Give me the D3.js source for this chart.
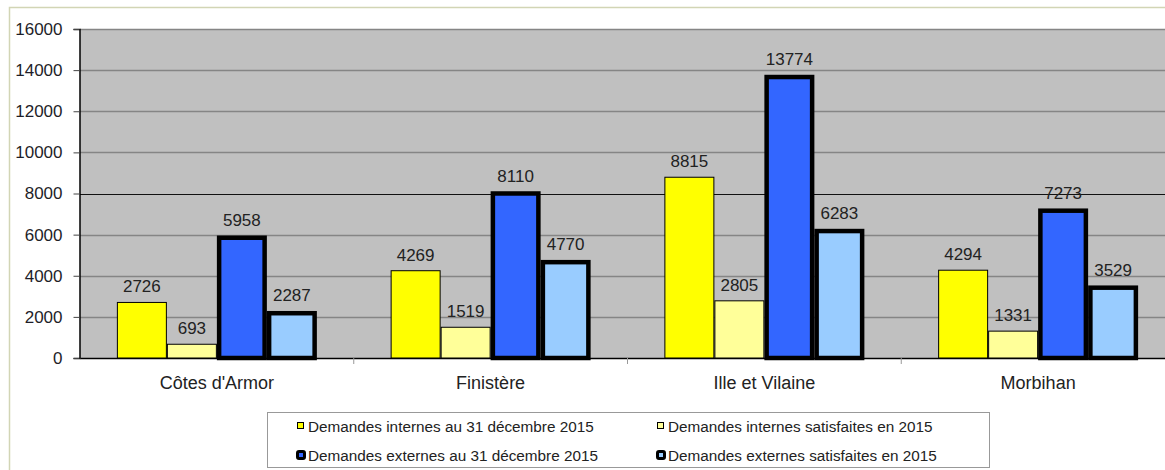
<!DOCTYPE html>
<html>
<head>
<meta charset="utf-8">
<script src="https://cdn.jsdelivr.net/npm/d3@7"></script>
<style>
body { margin: 0; background: #fff; }
svg { display: block; font-family: "Liberation Sans", Arial, sans-serif; }
</style>
</head>
<body>
<svg id="chart"></svg>
<script>
// data
var categories = ["Côtes d'Armor", "Finistère", "Ille et Vilaine", "Morbihan"];
var seriesNames = [
  "Demandes internes au 31 décembre 2015",
  "Demandes internes satisfaites en 2015",
  "Demandes externes au 31 décembre 2015",
  "Demandes externes satisfaites en 2015"
];
var internesAu31 = [2726, 4269, 8815, 4294];
var internesSatisfaites = [693, 1519, 2805, 1331];
var externesAu31 = [5958, 8110, 13774, 7273];
var externesSatisfaites = [2287, 4770, 6283, 3529];
var yTicks = [0, 2000, 4000, 6000, 8000, 10000, 12000, 14000, 16000];

var seriesValues = [internesAu31, internesSatisfaites, externesAu31, externesSatisfaites];
var fills = ["#ffff00", "#ffff99", "#3366ff", "#99ccff"];
var strokeW = [1, 1, 4.5, 4.5];

var W = 1165, H = 470;
var svg = d3.select('#chart').attr('width', W).attr('height', H);

// outer frame
svg.append("rect").attr("x", 9.5).attr("y", 7.5).attr("width", W).attr("height", H)
  .attr("fill", "none").attr("stroke", "#d2d5b5").attr("stroke-width", 1.5);

// scales
var plotLeft = 80, plotRight = 1175, plotTop = 29, plotBottom = 358;
var x0 = d3.scaleBand().domain(categories).range([plotLeft, plotRight]);
var bw = x0.bandwidth();
var x1 = d3.scaleBand().domain(d3.range(seriesNames.length)).range([(bw - 200) / 2, (bw + 200) / 2]);
var y = d3.scaleLinear().domain([0, 16000]).range([plotBottom, plotTop]);

// plot background
svg.append("rect").attr("x", plotLeft).attr("y", plotTop)
  .attr("width", plotRight - plotLeft).attr("height", plotBottom - plotTop)
  .attr("fill", "#c0c0c0");

// gridlines
svg.append("g").selectAll("line").data(yTicks.filter(function(d){ return d > 0; })).enter().append("line")
  .attr("x1", plotLeft).attr("x2", plotRight)
  .attr("y1", function(d){ return Math.round(y(d)) + 0.5; })
  .attr("y2", function(d){ return Math.round(y(d)) + 0.5; })
  .attr("stroke", function(d){ return d === 8000 ? "#111" : "#858585"; })
  .attr("stroke-width", function(d){ return d === 8000 ? 1.2 : 1.5; });

// y axis
var yAxis = d3.axisLeft(y).tickValues(yTicks).tickSize(6).tickPadding(11).tickFormat(d3.format("d"));
var gy = svg.append("g").attr("transform", "translate(" + (plotLeft - 0.5) + ",0)").call(yAxis);
gy.select(".domain").attr("stroke", "#000").attr("stroke-width", 1.5);
gy.selectAll(".tick line").attr("stroke", "#444");
gy.selectAll("text").attr("font-size", 17).attr("fill", "#1e1e28").attr("font-family", "'Liberation Sans', Arial, sans-serif");

// x axis
var xAxis = d3.axisBottom(x0).tickSize(0).tickPadding(18);
var gx = svg.append("g").attr("transform", "translate(0," + plotBottom + ")").call(xAxis);
gx.select(".domain").attr("stroke", "#000").attr("stroke-width", 1.5);
gx.selectAll("text").attr("font-size", 18).attr("fill", "#222").attr("font-family", "'Liberation Sans', Arial, sans-serif");
// category separators
gx.append("g").selectAll("line").data(categories.slice(1)).enter().append("line")
  .attr("x1", function(d){ return x0(d); }).attr("x2", function(d){ return x0(d); })
  .attr("y1", 0).attr("y2", 6).attr("stroke", "#999");

// bars
var groups = svg.append("g").selectAll("g").data(categories).enter().append("g")
  .attr("transform", function(d){ return "translate(" + x0(d) + ",0)"; });

groups.each(function(cat, ci) {
  var g = d3.select(this);
  seriesValues.forEach(function(vals, si) {
    var v = vals[ci];
    var sw = strokeW[si];
    var xs = x1(si), w = x1.bandwidth();
    g.append("rect")
      .attr("x", xs + sw / 2).attr("y", y(v) + sw / 2)
      .attr("width", w - sw).attr("height", y(0) - y(v) - sw / 2)
      .attr("fill", fills[si]).attr("stroke", "#000").attr("stroke-width", sw);
    g.append("text")
      .attr("x", xs + w / 2).attr("y", y(v) - 9.5)
      .attr("text-anchor", "middle").attr("font-size", 17).attr("fill", "#222")
      .text(v);
  });
});

// legend
var legend = svg.append("g");
legend.append("rect").attr("x", 267.5).attr("y", 412.5).attr("width", 722).attr("height", 55)
  .attr("fill", "#fff").attr("stroke", "#999").attr("stroke-width", 1);
var legPos = [[297, 426], [657, 426], [297, 455], [657, 455]];
seriesNames.forEach(function(name, i) {
  var p = legPos[i];
  var ext = i >= 2;
  legend.append("rect").attr("x", p[0] + 0.5).attr("y", p[1] - 3.5)
    .attr("width", ext ? 7 : 6).attr("height", ext ? 7 : 6).attr("rx", ext ? 1.5 : 0)
    .attr("fill", fills[i]).attr("stroke", "#000").attr("stroke-width", ext ? 3 : 1);
  legend.append("text")
    .attr("x", p[0] + 11).attr("y", p[1] + 5.5)
    .attr("font-size", 15.3).attr("fill", "#222").text(name);
});
</script>
</body>
</html>
